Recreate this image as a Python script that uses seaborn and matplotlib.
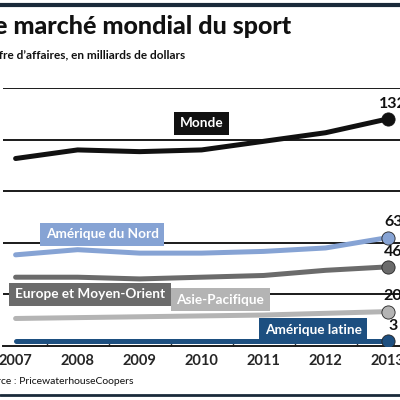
import seaborn as sns
import matplotlib.pyplot as plt
import pandas as pd

years = [2007, 2008, 2009, 2010, 2011, 2012, 2013]
monde = [109, 114, 113, 114, 119, 124, 132]
amerique_nord = [53, 56, 54, 54, 55, 57, 63]
europe_mo = [40, 40, 39, 40, 41, 44, 46]
asie_pacifique = [16, 16.5, 17, 17.5, 18, 19, 20]
amerique_latine = [3, 3, 3, 3, 3, 3, 3]

series = ['Monde', 'Amérique du Nord', 'Europe et Moyen-Orient', 'Asie-Pacifique', 'Amérique latine']
colors = ['#111111', '#86a3d4', '#6b6b6b', '#b4b4b4', '#1d4f80']
values = [monde, amerique_nord, europe_mo, asie_pacifique, amerique_latine]
# where the name boxes sit (year, value)
label_pos = [(2010.0, 129.5), (2008.4, 65), (2008.2, 30), (2010.3, 27), (2011.8, 9.5)]

df = pd.DataFrame({
    'year': years * len(series),
    'value': sum(values, []),
    'region': [s for s in series for _ in years],
})

sns.set_theme(style='white')
plt.rcParams['font.family'] = ['Lato', 'DejaVu Sans']

fig = plt.figure(figsize=(4, 4), dpi=100)
ax = fig.add_axes([0.008, 0.135, 0.992, 0.645])

sns.lineplot(data=df, x='year', y='value', hue='region', palette=colors,
             hue_order=series, linewidth=3.6, legend=False, ax=ax, zorder=3)

for name, col, vals, (lx, ly) in zip(series, colors, values, label_pos):
    ax.plot(years[-1], vals[-1], 'o', color=col, markersize=9.5,
            markeredgecolor='#222222' if name != 'Monde' else col, markeredgewidth=0.6, zorder=4)
    ax.annotate(f'{vals[-1]:g}', xy=(years[-1], vals[-1]), xytext=(4, 6),
                textcoords='offset points', ha='center', va='bottom',
                fontsize=11.5, fontweight='bold', color='#111111')
    ax.text(lx, ly, name, ha='center', va='center', color='white',
            fontsize=9.8, fontweight='bold', zorder=5,
            bbox=dict(boxstyle='square,pad=0.4', facecolor=col, edgecolor='none'))

ax.set_yticks([30, 60, 90, 120, 150])
ax.yaxis.grid(True, color='#1a1a1a', linewidth=1.4)
ax.set_yticklabels([])
ax.tick_params(axis='y', length=0)
ax.set_xticks(years)
ax.set_xticks([y + 0.5 for y in years[:-1]], minor=True)
ax.set_xticklabels([str(y) for y in years], fontsize=10.5, fontweight='bold')
ax.tick_params(axis='x', which='major', length=0, pad=6)
ax.tick_params(axis='x', which='minor', direction='in', length=4, width=1, color='#333333', bottom=True)
ax.set_xlim(2006.8, 2013.2)
ax.set_ylim(0, 150)
for s in ['top', 'right', 'left']:
    ax.spines[s].set_visible(False)
ax.spines['bottom'].set_color('#1a1a1a')
ax.spines['bottom'].set_linewidth(1.4)
ax.set_xlabel('')
ax.set_ylabel('')

fig.text(-0.048, 0.935, 'Le marché mondial du sport', fontsize=18, fontweight='black',
         color='#111111', va='center', ha='left')
fig.text(-0.058, 0.862, 'Chiffre d\u2019affaires, en milliards de dollars', fontsize=8.5,
         fontweight='bold', color='#111111', va='center', ha='left')
fig.text(-0.05, 0.047, 'Source : PricewaterhouseCoopers', fontsize=7.5,
         color='#111111', va='center', ha='left')
fig.add_artist(plt.Line2D([0, 1], [0.988, 0.988], color='#1a2a3a', linewidth=3))
fig.add_artist(plt.Line2D([0, 1], [0.012, 0.012], color='#1a2a3a', linewidth=2))

fig.savefig('out.png', dpi=100)
